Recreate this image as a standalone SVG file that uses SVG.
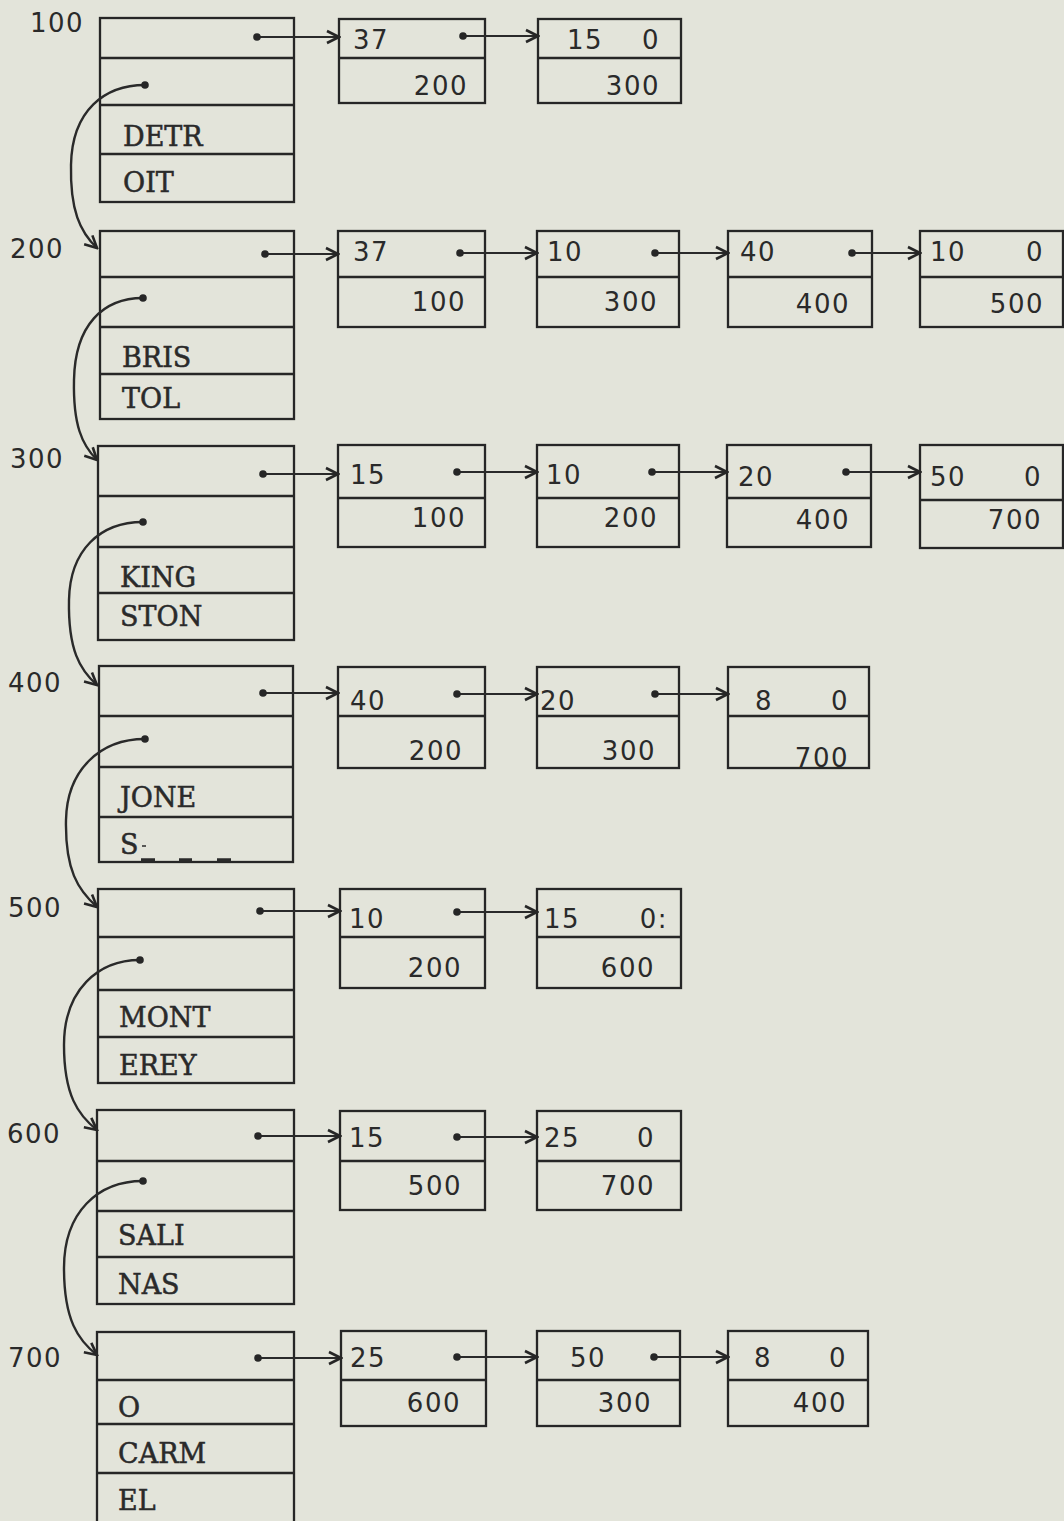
<svg xmlns="http://www.w3.org/2000/svg" width="1064" height="1521" viewBox="0 0 1064 1521">
<defs>
<marker id="ah" viewBox="-14 -8 16 16" refX="0" refY="0" markerWidth="16" markerHeight="16" markerUnits="userSpaceOnUse" orient="auto">
<path d="M-12,-6 L0,0 L-12,6" fill="none" stroke="#262626" stroke-width="2.6" stroke-linejoin="miter"/>
</marker>
<marker id="dot" viewBox="-5 -5 10 10" refX="0" refY="0" markerWidth="10" markerHeight="10" markerUnits="userSpaceOnUse">
<circle cx="0" cy="0" r="3.8" fill="#262626"/>
</marker>
<style>
.bx{fill:none;stroke:#262626;stroke-width:2.3}
.dv{stroke:#262626;stroke-width:2.3}
.num{font-family:"DejaVu Sans","Noto Sans",sans-serif;font-size:26px;letter-spacing:1.5px;fill:#2a2a2a}
.r{text-anchor:end}
.nm{font-family:"DejaVu Serif","Liberation Serif",serif;font-size:27px;letter-spacing:0px;fill:#2a2a2a;stroke:#2a2a2a;stroke-width:0.5}
.ar{fill:none;stroke:#2a2a2a;stroke-width:2;marker-start:url(#dot);marker-end:url(#ah)}
.cv{fill:none;stroke:#2a2a2a;stroke-width:2.4;marker-start:url(#dot);marker-end:url(#ah)}
</style>
</defs>
<rect x="0" y="0" width="1064" height="1521" fill="#e3e4da"/>

<g id="labels">
<text class="num" x="30" y="32">100</text>
<text class="num" x="10" y="258">200</text>
<text class="num" x="10" y="468">300</text>
<text class="num" x="8" y="692">400</text>
<text class="num" x="8" y="917">500</text>
<text class="num" x="7" y="1143">600</text>
<text class="num" x="8" y="1367">700</text>
</g>

<!-- Row 100 -->
<g id="n100">
<rect class="bx" x="100" y="18" width="194" height="184"/>
<line class="dv" x1="100" y1="58" x2="294" y2="58"/>
<line class="dv" x1="100" y1="105" x2="294" y2="105"/>
<line class="dv" x1="100" y1="154" x2="294" y2="154"/>
<text class="nm" x="123" y="146">DETR</text>
<text class="nm" x="123" y="192">OIT</text>
</g>
<g id="n100a">
<rect class="bx" x="339" y="19" width="146" height="84"/>
<line class="dv" x1="339" y1="58" x2="485" y2="58"/>
<text class="num" x="353" y="49">37</text>
<text class="num r" x="468" y="95">200</text>
</g>
<g id="n100b">
<rect class="bx" x="538" y="19" width="143" height="84"/>
<line class="dv" x1="538" y1="58" x2="681" y2="58"/>
<text class="num" x="567" y="49">15</text>
<text class="num r" x="660" y="49">0</text>
<text class="num r" x="660" y="95">300</text>
</g>

<!-- Row 200 -->
<g id="n200">
<rect class="bx" x="100" y="231" width="194" height="188"/>
<line class="dv" x1="100" y1="277" x2="294" y2="277"/>
<line class="dv" x1="100" y1="327" x2="294" y2="327"/>
<line class="dv" x1="100" y1="374" x2="294" y2="374"/>
<text class="nm" x="122" y="367">BRIS</text>
<text class="nm" x="122" y="408">TOL</text>
</g>
<g id="n200a">
<rect class="bx" x="338" y="231" width="147" height="96"/>
<line class="dv" x1="338" y1="277" x2="485" y2="277"/>
<text class="num" x="353" y="261">37</text>
<text class="num r" x="466" y="311">100</text>
</g>
<g id="n200b">
<rect class="bx" x="537" y="231" width="142" height="96"/>
<line class="dv" x1="537" y1="277" x2="679" y2="277"/>
<text class="num" x="547" y="261">10</text>
<text class="num r" x="658" y="311">300</text>
</g>
<g id="n200c">
<rect class="bx" x="728" y="231" width="144" height="96"/>
<line class="dv" x1="728" y1="277" x2="872" y2="277"/>
<text class="num" x="740" y="261">40</text>
<text class="num r" x="850" y="313">400</text>
</g>
<g id="n200d">
<rect class="bx" x="920" y="231" width="143" height="96"/>
<line class="dv" x1="920" y1="277" x2="1063" y2="277"/>
<text class="num" x="930" y="261">10</text>
<text class="num r" x="1044" y="261">0</text>
<text class="num r" x="1044" y="313">500</text>
</g>

<!-- Row 300 -->
<g id="n300">
<rect class="bx" x="98" y="446" width="196" height="194"/>
<line class="dv" x1="98" y1="496" x2="294" y2="496"/>
<line class="dv" x1="98" y1="547" x2="294" y2="547"/>
<line class="dv" x1="98" y1="593" x2="294" y2="593"/>
<text class="nm" x="120" y="587">KING</text>
<text class="nm" x="120" y="626">STON</text>
</g>
<g id="n300a">
<rect class="bx" x="338" y="445" width="147" height="102"/>
<line class="dv" x1="338" y1="498" x2="485" y2="498"/>
<text class="num" x="350" y="484">15</text>
<text class="num r" x="466" y="527">100</text>
</g>
<g id="n300b">
<rect class="bx" x="537" y="445" width="142" height="102"/>
<line class="dv" x1="537" y1="498" x2="679" y2="498"/>
<text class="num" x="546" y="484">10</text>
<text class="num r" x="658" y="527">200</text>
</g>
<g id="n300c">
<rect class="bx" x="727" y="445" width="144" height="102"/>
<line class="dv" x1="727" y1="498" x2="871" y2="498"/>
<text class="num" x="738" y="486">20</text>
<text class="num r" x="850" y="529">400</text>
</g>
<g id="n300d">
<rect class="bx" x="920" y="445" width="143" height="103"/>
<line class="dv" x1="920" y1="500" x2="1063" y2="500"/>
<text class="num" x="930" y="486">50</text>
<text class="num r" x="1042" y="486">0</text>
<text class="num r" x="1042" y="529">700</text>
</g>

<!-- Row 400 -->
<g id="n400">
<rect class="bx" x="99" y="666" width="194" height="196"/>
<line class="dv" x1="99" y1="716" x2="293" y2="716"/>
<line class="dv" x1="99" y1="767" x2="293" y2="767"/>
<line class="dv" x1="99" y1="817" x2="293" y2="817"/>
<text class="nm" x="120" y="807">JONE</text>
<text class="nm" x="120" y="854">S</text>
<line x1="142" y1="846" x2="146" y2="846" stroke="#2a2a2a" stroke-width="1.5"/>
<line x1="141" y1="860" x2="155" y2="860" stroke="#2a2a2a" stroke-width="3.5"/>
<line x1="179" y1="860" x2="192" y2="860" stroke="#2a2a2a" stroke-width="3.5"/>
<line x1="217" y1="860" x2="231" y2="860" stroke="#2a2a2a" stroke-width="3.5"/>
</g>
<g id="n400a">
<rect class="bx" x="338" y="667" width="147" height="101"/>
<line class="dv" x1="338" y1="716" x2="485" y2="716"/>
<text class="num" x="350" y="710">40</text>
<text class="num r" x="463" y="760">200</text>
</g>
<g id="n400b">
<rect class="bx" x="537" y="667" width="142" height="101"/>
<line class="dv" x1="537" y1="716" x2="679" y2="716"/>
<text class="num" x="540" y="710">20</text>
<text class="num r" x="656" y="760">300</text>
</g>
<g id="n400c">
<rect class="bx" x="728" y="667" width="141" height="101"/>
<line class="dv" x1="728" y1="716" x2="869" y2="716"/>
<text class="num" x="755" y="710">8</text>
<text class="num r" x="849" y="710">0</text>
<text class="num r" x="849" y="767">700</text>
</g>

<!-- Row 500 -->
<g id="n500">
<rect class="bx" x="98" y="889" width="196" height="194"/>
<line class="dv" x1="98" y1="937" x2="294" y2="937"/>
<line class="dv" x1="98" y1="990" x2="294" y2="990"/>
<line class="dv" x1="98" y1="1037" x2="294" y2="1037"/>
<text class="nm" x="119" y="1027">MONT</text>
<text class="nm" x="119" y="1075">EREY</text>
</g>
<g id="n500a">
<rect class="bx" x="340" y="889" width="145" height="99"/>
<line class="dv" x1="340" y1="937" x2="485" y2="937"/>
<text class="num" x="349" y="928">10</text>
<text class="num r" x="462" y="977">200</text>
</g>
<g id="n500b">
<rect class="bx" x="537" y="889" width="144" height="99"/>
<line class="dv" x1="537" y1="937" x2="681" y2="937"/>
<text class="num" x="544" y="928">15</text>
<text class="num r" x="668" y="928">0:</text>
<text class="num r" x="655" y="977">600</text>
</g>

<!-- Row 600 -->
<g id="n600">
<rect class="bx" x="97" y="1110" width="197" height="194"/>
<line class="dv" x1="97" y1="1161" x2="294" y2="1161"/>
<line class="dv" x1="97" y1="1211" x2="294" y2="1211"/>
<line class="dv" x1="97" y1="1257" x2="294" y2="1257"/>
<text class="nm" x="118" y="1245">SALI</text>
<text class="nm" x="118" y="1294">NAS</text>
</g>
<g id="n600a">
<rect class="bx" x="340" y="1111" width="145" height="99"/>
<line class="dv" x1="340" y1="1161" x2="485" y2="1161"/>
<text class="num" x="349" y="1147">15</text>
<text class="num r" x="462" y="1195">500</text>
</g>
<g id="n600b">
<rect class="bx" x="537" y="1111" width="144" height="99"/>
<line class="dv" x1="537" y1="1161" x2="681" y2="1161"/>
<text class="num" x="544" y="1147">25</text>
<text class="num r" x="655" y="1147">0</text>
<text class="num r" x="655" y="1195">700</text>
</g>

<!-- Row 700 -->
<g id="n700">
<rect class="bx" x="97" y="1332" width="197" height="200"/>
<line class="dv" x1="97" y1="1380" x2="294" y2="1380"/>
<line class="dv" x1="97" y1="1424" x2="294" y2="1424"/>
<line class="dv" x1="97" y1="1473" x2="294" y2="1473"/>
<text class="nm" x="118" y="1417">O</text>
<text class="nm" x="118" y="1463">CARM</text>
<text class="nm" x="118" y="1510">EL</text>
</g>
<g id="n700a">
<rect class="bx" x="341" y="1331" width="145" height="95"/>
<line class="dv" x1="341" y1="1380" x2="486" y2="1380"/>
<text class="num" x="350" y="1367">25</text>
<text class="num r" x="461" y="1412">600</text>
</g>
<g id="n700b">
<rect class="bx" x="537" y="1331" width="143" height="95"/>
<line class="dv" x1="537" y1="1380" x2="680" y2="1380"/>
<text class="num" x="570" y="1367">50</text>
<text class="num r" x="652" y="1412">300</text>
</g>
<g id="n700c">
<rect class="bx" x="728" y="1331" width="140" height="95"/>
<line class="dv" x1="728" y1="1380" x2="868" y2="1380"/>
<text class="num" x="754" y="1367">8</text>
<text class="num r" x="847" y="1367">0</text>
<text class="num r" x="847" y="1412">400</text>
</g>

<g id="connectors">
<path class="ar" d="M257,37 L339,37"/>
<path class="ar" d="M463,36 L538,36"/>
<path class="ar" d="M265,254 L338,254"/>
<path class="ar" d="M460,253 L537,253"/>
<path class="ar" d="M655,253 L728,253"/>
<path class="ar" d="M852,253 L920,253"/>
<path class="ar" d="M263,474 L338,474"/>
<path class="ar" d="M457,472 L537,472"/>
<path class="ar" d="M652,472 L727,472"/>
<path class="ar" d="M846,472 L920,472"/>
<path class="ar" d="M263,693 L338,693"/>
<path class="ar" d="M457,694 L537,694"/>
<path class="ar" d="M655,694 L728,694"/>
<path class="ar" d="M260,911 L340,911"/>
<path class="ar" d="M457,912 L537,912"/>
<path class="ar" d="M258,1136 L340,1136"/>
<path class="ar" d="M457,1137 L537,1137"/>
<path class="ar" d="M258,1358 L341,1358"/>
<path class="ar" d="M457,1357 L537,1357"/>
<path class="ar" d="M654,1357 L728,1357"/>
<path class="cv" d="M145,85 C105,85 72,110 71,165 C70,210 80,232 97,248"/>
<path class="cv" d="M143,298 C103,298 75,325 74,380 C73,425 82,445 97,460"/>
<path class="cv" d="M143,522 C100,522 70,550 69,600 C68,650 80,670 97,685"/>
<path class="cv" d="M145,739 C100,739 67,770 66,820 C65,870 78,890 97,907"/>
<path class="cv" d="M140,960 C98,960 64,990 64,1045 C64,1095 78,1115 97,1130"/>
<path class="cv" d="M143,1181 C98,1181 64,1212 64,1268 C64,1320 78,1340 97,1355"/>
</g>
</svg>
